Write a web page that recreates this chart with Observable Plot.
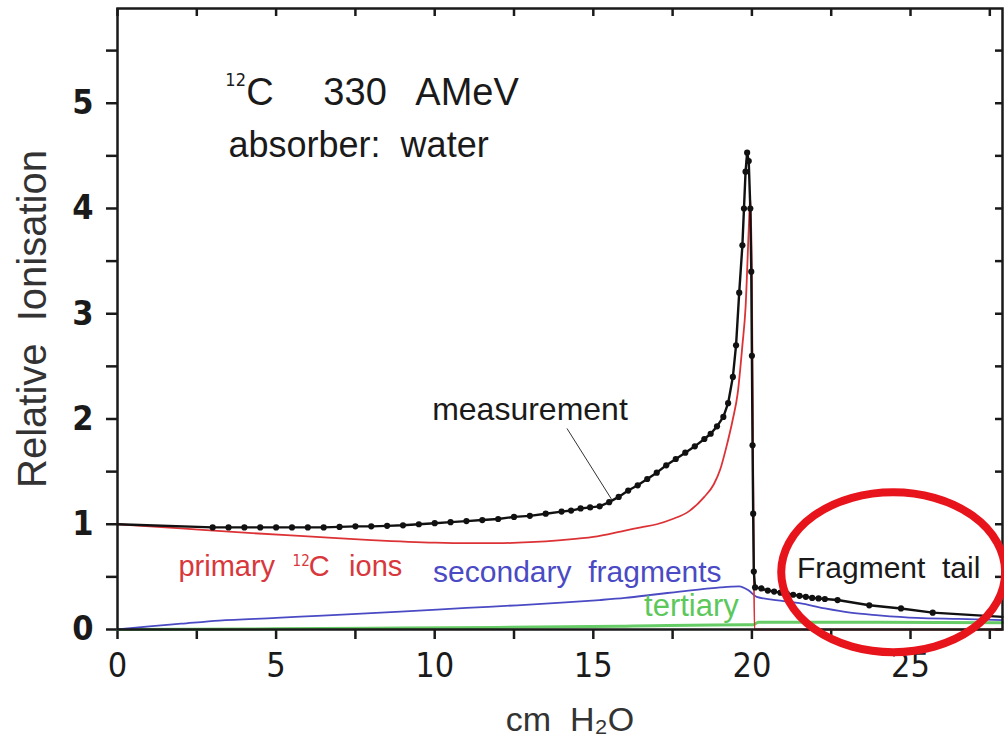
<!DOCTYPE html>
<html>
<head>
<meta charset="utf-8">
<script src="https://cdn.jsdelivr.net/npm/d3@7"></script>
<script src="https://cdn.jsdelivr.net/npm/@observablehq/plot@0.6"></script>
<style>
html, body { margin: 0; padding: 0; background: #fff; }
#chart { width: 1004px; height: 744px; overflow: hidden; }
</style>
</head>
<body>
<div id="chart"></div>
<script>
// ---- Data ----
// measurement (black points + line): depth in cm H2O, relative ionisation
const mDepth = [0, 3, 3.5, 4, 4.5, 5, 5.5, 6, 6.5, 7, 7.5, 8, 8.5, 9, 9.5, 10, 10.5, 11, 11.5, 12, 12.5, 13, 13.5, 14,
  14.3, 14.6, 14.9, 15.2, 15.5, 15.8, 16.1, 16.4, 16.7, 17.0, 17.3, 17.6, 17.9, 18.2, 18.5, 18.7, 18.9, 19.1, 19.25,
  19.4, 19.5, 19.6, 19.7, 19.75, 19.8, 19.85, 19.9, 19.95, 19.98, 20.0, 20.02, 20.04, 20.06, 20.1, 20.3, 20.5, 20.7,
  20.9, 21.1, 21.3, 21.5, 21.7, 21.9, 22.1, 22.3, 22.7, 23.7, 24.7, 25.7, 27.9];
const mValue = [1.00, 0.97, 0.97, 0.97, 0.97, 0.97, 0.97, 0.97, 0.97, 0.975, 0.98, 0.98, 0.985, 0.99, 1.00, 1.01, 1.02, 1.03, 1.04, 1.05, 1.07, 1.08, 1.10, 1.12,
  1.13, 1.15, 1.16, 1.17, 1.21, 1.26, 1.32, 1.37, 1.43, 1.49, 1.56, 1.62, 1.68, 1.74, 1.81, 1.86, 1.93, 2.02, 2.15,
  2.40, 2.70, 3.20, 3.65, 4.00, 4.35, 4.53, 4.45, 4.00, 3.40, 2.60, 1.75, 1.10, 0.55, 0.40, 0.39, 0.37, 0.36,
  0.35, 0.34, 0.33, 0.32, 0.31, 0.30, 0.295, 0.29, 0.28, 0.23, 0.20, 0.16, 0.12];
const mDotRange = [3, 26];

// primary 12C ions (red)
const pDepth = [0, 2, 4, 6, 8, 10, 11, 12, 13, 14, 15, 16, 16.5, 17, 17.5, 18, 18.5, 18.8, 19, 19.2, 19.4, 19.55, 19.7, 19.8, 19.9, 19.95, 20.0, 20.04, 20.08, 27.9];
const pValue = [1.00, 0.96, 0.92, 0.885, 0.85, 0.825, 0.82, 0.82, 0.83, 0.85, 0.88, 0.94, 0.97, 1.00, 1.05, 1.12, 1.26, 1.38, 1.52, 1.74, 2.00, 2.24, 2.70, 3.06, 3.80, 4.12, 3.30, 1.50, 0.0, 0.0];

// secondary fragments (blue)
const sDepth = [0, 1, 2, 3.2, 5, 6.3, 8, 9.5, 11, 12.6, 14, 15.2, 16, 17, 18, 18.5, 19, 19.6, 19.9, 20.15, 21, 21.5, 22.3, 23.1, 24, 25.2, 26.5, 27.9];
const sValue = [0.0, 0.03, 0.055, 0.085, 0.11, 0.13, 0.155, 0.18, 0.205, 0.23, 0.255, 0.28, 0.30, 0.335, 0.37, 0.385, 0.40, 0.41, 0.37, 0.31, 0.27, 0.25, 0.20, 0.16, 0.135, 0.11, 0.10, 0.09];

// tertiary (green)
const tDepth = [0, 4, 8, 12, 16, 19.8, 20.05, 20.2, 24, 27.9];
const tValue = [0, 0.005, 0.012, 0.02, 0.032, 0.045, 0.045, 0.07, 0.068, 0.065];

// ticks
const xTicks = [0, 2.5, 5, 7.5, 10, 12.5, 15, 17.5, 20, 22.5, 25, 27.5];
const xTickLabels = [0, 5, 10, 15, 20, 25];
const yTicks = [0, 0.5, 1, 1.5, 2, 2.5, 3, 3.5, 4, 4.5, 5, 5.5];
const yTickLabels = [0, 1, 2, 3, 4, 5];
const xDomain = [0, 27.9];
const yDomain = [0, 5.9];

// texts
const xLabel = "cm\u00a0\u00a0H\u2082O";
const yLabel = "Relative\u00a0\u00a0Ionisation";
const annotations = [
  {text: "12", x: 3.40, y: 5.16, size: 18, color: "#1a1a1a", narrow: true},
  {text: "C", x: 4.06, y: 4.98, size: 38, color: "#1a1a1a"},
  {text: "330", x: 6.49, y: 4.98, size: 38, color: "#1a1a1a"},
  {text: "AMeV", x: 9.39, y: 4.98, size: 38, color: "#1a1a1a"},
  {text: "absorber:\u00a0\u00a0water", x: 3.50, y: 4.49, size: 36, color: "#1a1a1a"},
  {text: "measurement", x: 9.92, y: 1.99, size: 32, color: "#1a1a1a"},
  {text: "primary", x: 1.92, y: 0.513, size: 29, color: "#d8383c"},
  {text: "12", x: 5.52, y: 0.60, size: 15, color: "#d8383c", narrow: true},
  {text: "C", x: 6.03, y: 0.513, size: 29, color: "#d8383c"},
  {text: "ions", x: 7.30, y: 0.513, size: 29, color: "#d8383c"},
  {text: "secondary\u00a0\u00a0fragments", x: 9.95, y: 0.456, size: 30, color: "#4a4ac4"},
  {text: "tertiary", x: 16.6, y: 0.124, size: 31, color: "#5cc85c"},
  {text: "Fragment\u00a0\u00a0tail", x: 21.42, y: 0.494, size: 30, color: "#1a1a1a"}
];
const leader = [{x1: 14.17, y1: 1.91, x2: 15.59, y2: 1.23}];
const highlight = {cx: 24.47, cy: 0.54, rx: 3.53, ry: 0.76};

// ---- build tables ----
const measurement = mDepth.map((x, i) => ({x, y: mValue[i]}));
const measurementDots = measurement.filter(d => d.x >= mDotRange[0] && d.x <= mDotRange[1]);
const primary = pDepth.map((x, i) => ({x, y: pValue[i]}));
const secondary = sDepth.map((x, i) => ({x, y: sValue[i]}));
const tertiary = tDepth.map((x, i) => ({x, y: tValue[i]}));

const W = 1004, H = 744, mL = 117, mR = 2, mT = 8, mB = 115;
const narrow = "'Liberation Sans Narrow', 'DejaVu Sans Condensed', 'Arial Narrow', sans-serif";
const sans = "'Liberation Sans', Arial, Helvetica, sans-serif";

const chart = Plot.plot({
  width: W, height: H,
  marginLeft: mL, marginRight: mR, marginTop: mT, marginBottom: mB,
  style: {fontFamily: sans, background: "#fff", color: "#1a1a1a"},
  x: {domain: xDomain},
  y: {domain: yDomain},
  marks: [
    Plot.axisX({ticks: xTicks, tickSize: 10, tickPadding: 13, strokeWidth: 2.5,
      tickFormat: d => xTickLabels.includes(d) ? String(d) : "",
      fontSize: 34, fontFamily: narrow, fill: "#1a1a1a", label: null}),
    Plot.axisY({ticks: yTicks, tickSize: 11, tickPadding: 13, strokeWidth: 2.5,
      tickFormat: d => yTickLabels.includes(d) ? String(d) : "",
      fontSize: 34, fontWeight: "bold", fontFamily: narrow, fill: "#1a1a1a", label: null}),
    Plot.tickX(xTicks, {x: d => d, insetBottom: H - mT - mB - 8, strokeWidth: 2.5, stroke: "#1a1a1a"}),
    Plot.tickY(yTicks, {y: d => d, insetLeft: W - mL - mR - 7, strokeWidth: 2.5, stroke: "#1a1a1a"}),
    Plot.line(tertiary, {x: "x", y: "y", stroke: "#66cc66", strokeWidth: 3, curve: "monotone-x"}),
    Plot.line(secondary, {x: "x", y: "y", stroke: "#4a4ac4", strokeWidth: 1.8, curve: "monotone-x"}),
    Plot.line(primary, {x: "x", y: "y", stroke: "#dc3236", strokeWidth: 1.8, curve: "monotone-x"}),
    Plot.line(measurement, {x: "x", y: "y", stroke: "#111", strokeWidth: 2.4}),
    Plot.dot(measurementDots, {x: "x", y: "y", r: 3.1, fill: "#111"}),
    Plot.link(leader, {x1: "x1", y1: "y1", x2: "x2", y2: "y2", stroke: "#333", strokeWidth: 1}),
    ...annotations.map(a => Plot.text([a], {x: "x", y: "y", text: "text", fill: a.color, fontSize: a.size,
      textAnchor: "start", lineAnchor: "bottom", fontFamily: a.narrow ? narrow : sans})),
    Plot.frame({strokeWidth: 2.5, stroke: "#1a1a1a"}),
    Plot.text([yLabel], {frameAnchor: "left", rotate: -90, dx: -84, textAnchor: "middle", lineAnchor: "middle",
      fontSize: 40, fill: "#333", fontFamily: sans}),
    Plot.text([xLabel], {frameAnchor: "bottom", dx: 10, dy: 101, textAnchor: "middle", lineAnchor: "bottom",
      fontSize: 34, fill: "#333", fontFamily: sans})
  ]
});

// red highlight ellipse, placed with the chart's own scales
const sx = chart.scale("x"), sy = chart.scale("y");
const ecx = sx.apply(highlight.cx), ecy = sy.apply(highlight.cy);
const erx = sx.apply(highlight.cx + highlight.rx) - ecx;
const ery = sy.apply(highlight.cy) - sy.apply(highlight.cy + highlight.ry);
d3.select(chart).append("ellipse")
  .attr("cx", ecx).attr("cy", ecy).attr("rx", erx).attr("ry", ery)
  .attr("fill", "none").attr("stroke", "#e8141c").attr("stroke-width", 8);

document.getElementById("chart").appendChild(chart);
</script>
</body>
</html>
